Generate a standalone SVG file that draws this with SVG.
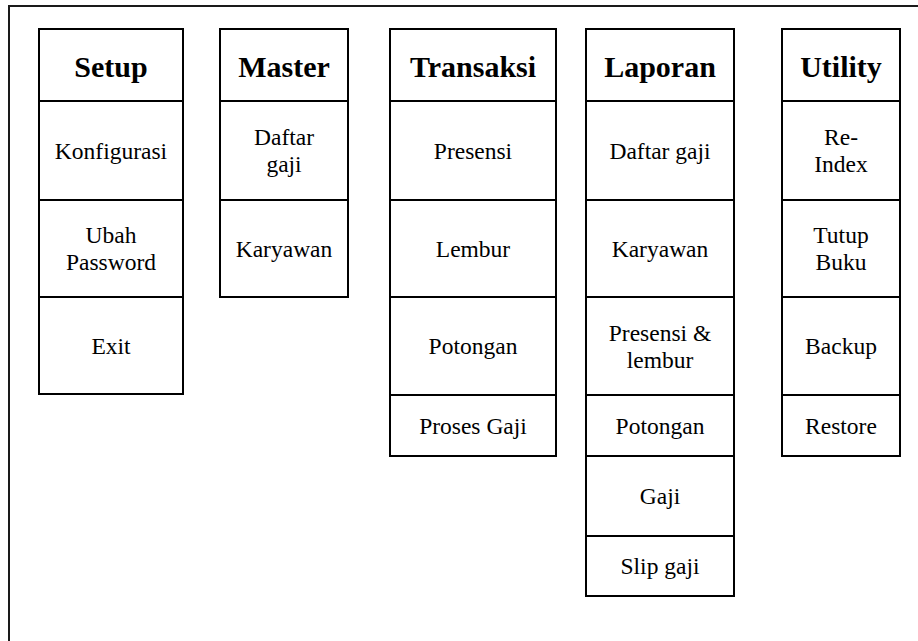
<svg xmlns="http://www.w3.org/2000/svg" width="918" height="641" viewBox="0 0 918 641">
<style>
.frame{fill:none;stroke:#1a1a1a;stroke-width:2}
.cell{fill:#fff;stroke:#000;stroke-width:2}
.h{font-family:'Liberation Serif',Tinos,'Times New Roman',Times,'DejaVu Serif',serif;font-weight:bold;font-size:30px;text-anchor:middle;fill:#000}
.t{font-family:'Liberation Serif',Tinos,'Times New Roman',Times,'DejaVu Serif',serif;font-size:23.5px;text-anchor:middle;fill:#000}
</style>
<rect x="0" y="0" width="918" height="641" fill="#fff"/>
<rect class="frame" x="9" y="6" width="930" height="660"/>

<g id="setup">
<rect class="cell" x="39" y="29" width="144" height="72"/>
<text class="h" x="111" y="76.5">Setup</text>
<rect class="cell" x="39" y="101" width="144" height="99"/>
<text class="t" x="111" y="158.5">Konfigurasi</text>
<rect class="cell" x="39" y="200" width="144" height="97"/>
<text class="t" x="111" y="243">Ubah</text>
<text class="t" x="111" y="270">Password</text>
<rect class="cell" x="39" y="297" width="144" height="97"/>
<text class="t" x="111" y="353.5">Exit</text>
</g>

<g id="master">
<rect class="cell" x="220" y="29" width="128" height="72"/>
<text class="h" x="284" y="76.5">Master</text>
<rect class="cell" x="220" y="101" width="128" height="99"/>
<text class="t" x="284" y="145">Daftar</text>
<text class="t" x="284" y="172">gaji</text>
<rect class="cell" x="220" y="200" width="128" height="97"/>
<text class="t" x="284" y="256.5">Karyawan</text>
</g>

<g id="transaksi">
<rect class="cell" x="390" y="29" width="166" height="72"/>
<text class="h" x="473" y="76.5">Transaksi</text>
<rect class="cell" x="390" y="101" width="166" height="99"/>
<text class="t" x="473" y="158.5">Presensi</text>
<rect class="cell" x="390" y="200" width="166" height="97"/>
<text class="t" x="473" y="256.5">Lembur</text>
<rect class="cell" x="390" y="297" width="166" height="98"/>
<text class="t" x="473" y="354">Potongan</text>
<rect class="cell" x="390" y="395" width="166" height="61"/>
<text class="t" x="473" y="433.5">Proses Gaji</text>
</g>

<g id="laporan">
<rect class="cell" x="586" y="29" width="148" height="72"/>
<text class="h" x="660" y="76.5">Laporan</text>
<rect class="cell" x="586" y="101" width="148" height="99"/>
<text class="t" x="660" y="158.5">Daftar gaji</text>
<rect class="cell" x="586" y="200" width="148" height="97"/>
<text class="t" x="660" y="256.5">Karyawan</text>
<rect class="cell" x="586" y="297" width="148" height="98"/>
<text class="t" x="660" y="340.5">Presensi &amp;</text>
<text class="t" x="660" y="367.5">lembur</text>
<rect class="cell" x="586" y="395" width="148" height="61"/>
<text class="t" x="660" y="433.5">Potongan</text>
<rect class="cell" x="586" y="456" width="148" height="80"/>
<text class="t" x="660" y="504">Gaji</text>
<rect class="cell" x="586" y="536" width="148" height="60"/>
<text class="t" x="660" y="574">Slip gaji</text>
</g>

<g id="utility">
<rect class="cell" x="782" y="29" width="118" height="72"/>
<text class="h" x="841" y="76.5">Utility</text>
<rect class="cell" x="782" y="101" width="118" height="99"/>
<text class="t" x="841" y="145">Re-</text>
<text class="t" x="841" y="172">Index</text>
<rect class="cell" x="782" y="200" width="118" height="97"/>
<text class="t" x="841" y="243">Tutup</text>
<text class="t" x="841" y="270">Buku</text>
<rect class="cell" x="782" y="297" width="118" height="98"/>
<text class="t" x="841" y="354">Backup</text>
<rect class="cell" x="782" y="395" width="118" height="61"/>
<text class="t" x="841" y="433.5">Restore</text>
</g>

<g id="connectors"></g>
</svg>
